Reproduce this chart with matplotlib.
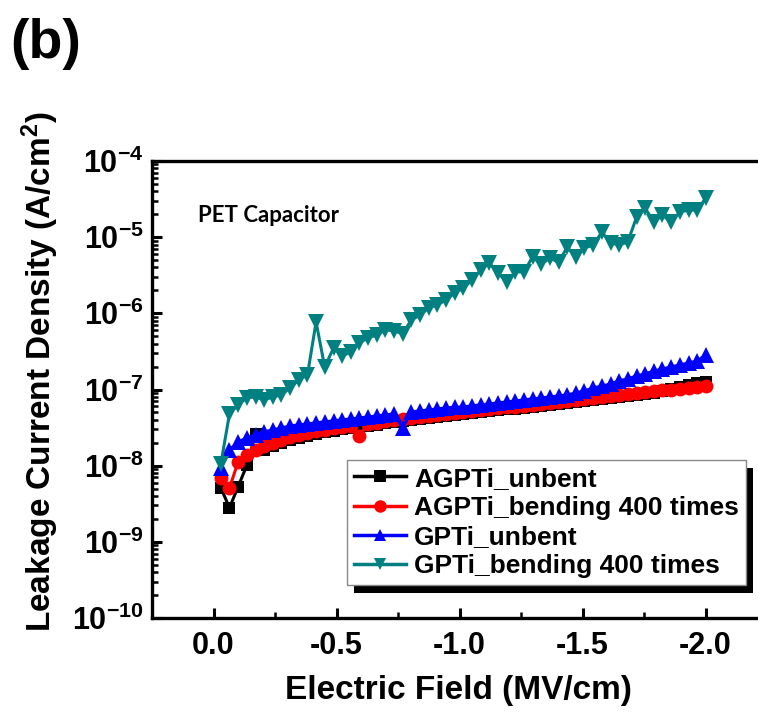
import math
import matplotlib
matplotlib.use("Agg")
import matplotlib.pyplot as plt
from matplotlib.patches import Rectangle
from matplotlib.ticker import FixedLocator, LogLocator, NullFormatter, FuncFormatter

plt.rcParams['font.family'] = ['Liberation Sans', 'DejaVu Sans']
plt.rcParams['font.weight'] = 'bold'
plt.rcParams['mathtext.fontset'] = 'custom'
plt.rcParams['mathtext.rm'] = 'Liberation Sans:bold'
plt.rcParams['mathtext.bf'] = 'Liberation Sans:bold'
plt.rcParams['mathtext.it'] = 'Liberation Sans:bold'

# ---------------- data ----------------
field = [-0.030, -0.065, -0.100, -0.136, -0.171, -0.206, -0.241, -0.276, -0.312, -0.347,
         -0.382, -0.417, -0.452, -0.488, -0.523, -0.558, -0.593, -0.628, -0.664, -0.699,
         -0.734, -0.769, -0.804, -0.840, -0.875, -0.910, -0.945, -0.980, -1.016, -1.051,
         -1.086, -1.121, -1.156, -1.192, -1.227, -1.262, -1.297, -1.332, -1.368, -1.403,
         -1.438, -1.473, -1.508, -1.544, -1.579, -1.614, -1.649, -1.684, -1.720, -1.755,
         -1.790, -1.825, -1.860, -1.896, -1.931, -1.966, -2.001]

agpti_unbent = [5.1e-9, 2.8e-9, 5.3e-9, 1.02e-8, 2.61e-8, 1.61e-8, 1.82e-8, 1.99e-8, 2.18e-8, 2.32e-8,
                2.46e-8, 2.61e-8, 2.78e-8, 2.86e-8, 3.04e-8, 3.13e-8, 3.23e-8, 3.33e-8, 3.43e-8, 3.65e-8,
                3.76e-8, 3.88e-8, 3.99e-8, 4.11e-8, 4.24e-8, 4.37e-8, 4.50e-8, 4.64e-8, 4.78e-8, 4.93e-8,
                5.08e-8, 5.24e-8, 5.40e-8, 5.48e-8, 5.56e-8, 5.74e-8, 5.91e-8, 6.10e-8, 6.28e-8, 6.47e-8,
                6.67e-8, 6.87e-8, 7.08e-8, 7.31e-8, 7.53e-8, 7.76e-8, 8.00e-8, 8.24e-8, 8.50e-8, 8.76e-8,
                9.03e-8, 9.60e-8, 1.02e-7, 1.08e-7, 1.15e-7, 1.22e-7, 1.26e-7]

agpti_bent = [6.9e-9, 5.1e-9, 1.12e-8, 1.39e-8, 1.61e-8, 1.82e-8, 1.99e-8, 2.18e-8, 2.39e-8, 2.54e-8,
              2.70e-8, 2.86e-8, 2.95e-8, 3.13e-8, 3.23e-8, 3.33e-8, 2.46e-8, 3.54e-8, 3.65e-8, 3.88e-8,
              3.99e-8, 4.11e-8, 4.24e-8, 4.37e-8, 4.50e-8, 4.64e-8, 4.78e-8, 4.93e-8, 5.08e-8, 5.24e-8,
              5.40e-8, 5.56e-8, 5.74e-8, 5.83e-8, 5.91e-8, 6.10e-8, 6.28e-8, 6.47e-8, 6.67e-8, 6.87e-8,
              7.08e-8, 7.31e-8, 7.53e-8, 7.76e-8, 8.00e-8, 8.24e-8, 8.50e-8, 8.76e-8, 9.03e-8, 9.30e-8,
              9.60e-8, 9.90e-8, 1.00e-7, 1.02e-7, 1.05e-7, 1.08e-7, 1.12e-7]

gpti_unbent = [9.4e-9, 1.61e-8, 2.05e-8, 2.32e-8, 2.54e-8, 2.78e-8, 2.95e-8, 3.13e-8, 3.33e-8, 3.43e-8,
               3.54e-8, 3.65e-8, 3.76e-8, 3.88e-8, 3.99e-8, 4.11e-8, 4.24e-8, 4.37e-8, 4.50e-8, 4.64e-8,
               4.78e-8, 3.13e-8, 5.08e-8, 5.24e-8, 5.40e-8, 5.56e-8, 5.74e-8, 5.83e-8, 5.91e-8, 6.10e-8,
               6.28e-8, 6.47e-8, 6.67e-8, 6.87e-8, 7.08e-8, 7.31e-8, 7.53e-8, 7.76e-8, 8.00e-8, 8.24e-8,
               8.50e-8, 9.00e-8, 9.60e-8, 1.05e-7, 1.11e-7, 1.18e-7, 1.30e-7, 1.38e-7, 1.51e-7, 1.60e-7,
               1.75e-7, 1.86e-7, 1.98e-7, 2.10e-7, 2.23e-7, 2.37e-7, 2.84e-7]

gpti_bent = [1.06e-8, 4.8e-8, 6.3e-8, 7.8e-8, 8.0e-8, 7.3e-8, 8.0e-8, 8.5e-8, 1.05e-7, 1.34e-7,
             1.56e-7, 7.7e-7, 1.98e-7, 3.5e-7, 2.76e-7, 3.1e-7, 4.1e-7, 4.75e-7, 5.2e-7, 6.05e-7,
             5.9e-7, 5.4e-7, 8.2e-7, 9.5e-7, 1.18e-6, 1.29e-6, 1.5e-6, 1.85e-6, 2.15e-6, 2.74e-6,
             3.7e-6, 4.6e-6, 3.4e-6, 2.6e-6, 3.5e-6, 3.5e-6, 5.5e-6, 4.45e-6, 5.3e-6, 4.7e-6,
             7.4e-6, 5.5e-6, 7.2e-6, 7.9e-6, 1.17e-5, 8.4e-6, 7.9e-6, 8.65e-6, 1.84e-5, 2.4e-5,
             1.58e-5, 1.95e-5, 1.58e-5, 2.14e-5, 2.27e-5, 2.27e-5, 3.27e-5]

series_names = ['AGPTi_unbent', 'AGPTi_bending 400 times', 'GPTi_unbent', 'GPTi_bending 400 times']
series_values = [agpti_unbent, agpti_bent, gpti_unbent, gpti_bent]
series_colors = ['#000000', '#ff0000', '#0000ff', '#008080']
series_markers = ['s', 'o', '^', 'v']
series_msize = [9.0, 10.0, 11.0, 11.0]

xtick_vals = [0.0, -0.5, -1.0, -1.5, -2.0]
xtick_labels = ['0.0', '-0.5', '-1.0', '-1.5', '-2.0']
xminor_vals = [-0.25, -0.75, -1.25, -1.75]
ytick_exps = [-10, -9, -8, -7, -6, -5, -4]

# ---------------- figure ----------------
W, H = 758, 718
fig = plt.figure(figsize=(W / 100, H / 100), dpi=100)
ax_left, ax_right, ax_top, ax_bot = 152, 767, 161, 618
ax = fig.add_axes([ax_left / W, 1 - ax_bot / H, (ax_right - ax_left) / W, (ax_bot - ax_top) / H])

for name, vals, c, m, ms in zip(series_names, series_values, series_colors, series_markers, series_msize):
    ax.plot(field, vals, color=c, marker=m, markersize=ms, linewidth=2.2,
            markeredgewidth=0, label=name, clip_on=False)

ax.set_yscale('log')
ax.set_ylim(1e-10, 1e-4)
ax.set_xlim(0.25, -2.25)

ax.xaxis.set_major_locator(FixedLocator(xtick_vals))
ax.set_xticklabels(xtick_labels)
ax.xaxis.set_minor_locator(FixedLocator(xminor_vals))
ax.yaxis.set_major_locator(FixedLocator([10.0 ** e for e in ytick_exps]))
ax.yaxis.set_major_formatter(FuncFormatter(lambda v, p: r'$\mathbf{10^{%d}}$' % round(math.log10(v))))
ax.yaxis.set_minor_locator(LogLocator(base=10, subs=[2, 3, 4, 5, 6, 7, 8, 9], numticks=20))
ax.yaxis.set_minor_formatter(NullFormatter())

ax.tick_params(axis='both', which='major', direction='in', length=7, width=2.2,
               labelsize=22, top=False, right=False)
ax.tick_params(axis='both', which='minor', direction='in', length=4, width=1.8,
               top=False, right=False)
ax.tick_params(axis='x', which='major', pad=9)
ax.tick_params(axis='y', which='major', pad=6)
for lab in ax.get_xticklabels() + ax.get_yticklabels():
    lab.set_fontweight('bold')

for s in ax.spines.values():
    s.set_linewidth(2.4)
ax.spines['right'].set_visible(False)

ax.text((198 - ax_left) / (ax_right - ax_left), (ax_bot - 215) / (ax_bot - ax_top), 'PET Capacitor',
        transform=ax.transAxes, fontsize=16, fontweight='bold', family=['Lato', 'DejaVu Sans'],
        ha='left', va='center')

leg = ax.legend(loc='upper left',
                bbox_to_anchor=((347 - ax_left) / (ax_right - ax_left), (ax_bot - 460) / (ax_bot - ax_top)),
                borderaxespad=0, frameon=True, fancybox=False,
                handlelength=2.0, handletextpad=0.3, labelspacing=0.2, borderpad=0.25,
                prop={'weight': 'bold', 'size': 19})
leg.get_frame().set_edgecolor('#888888')
leg.get_frame().set_linewidth(1.0)
leg.get_frame().set_alpha(1)
leg.set_zorder(10)
for h in leg.legend_handles:
    h.set_markersize(9)
    h.set_linewidth(2.5)

fig.canvas.draw()
bb = leg.get_window_extent()
shadow = Rectangle(((bb.x0 + 7) / W, (bb.y0 - 8) / H), bb.width / W, bb.height / H,
                   transform=fig.transFigure, facecolor='black', edgecolor='none', zorder=9)
ax.add_artist(shadow)
shadow.set_transform(fig.transFigure)
shadow.set_clip_on(False)

fig.text(40 / W, 1 - 372 / H, r'Leakage Current Density (A/cm$^{\mathbf{2}}$)', rotation=90,
         ha='center', va='center', fontsize=24, fontweight='bold')
fig.text(458 / W, 1 - 690 / H, 'Electric Field (MV/cm)', ha='center', va='center',
         fontsize=24, fontweight='bold')
fig.text(10 / W, 1 - 44 / H, '(b)', ha='left', va='center', fontsize=40, fontweight='bold')

fig.savefig('out.png', dpi=100)
